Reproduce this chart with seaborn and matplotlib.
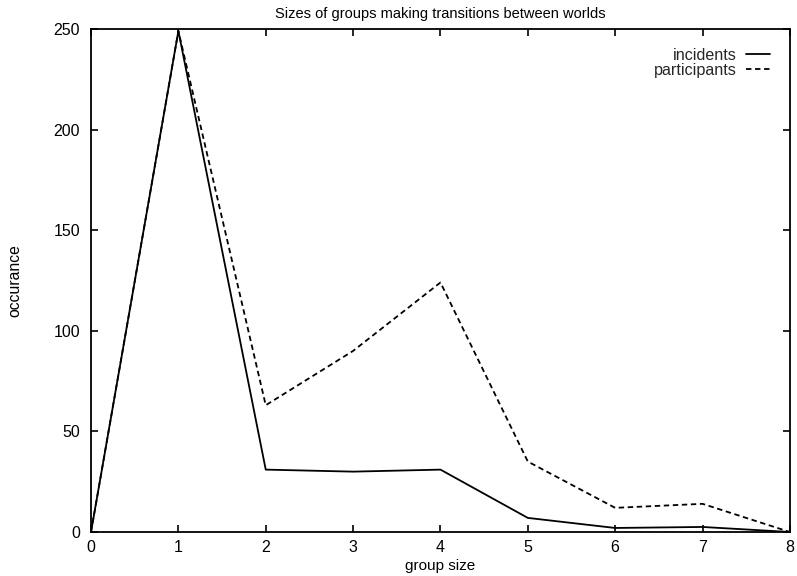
import numpy as np
import pandas as pd
import matplotlib
matplotlib.use("Agg")
import matplotlib.pyplot as plt
import seaborn as sns

group_size = [0, 1, 2, 3, 4, 5, 6, 7, 8]
incidents = [0, 249, 31, 30, 31, 7, 2, 2.5, 0]
participants = [0, 249, 63, 90, 124, 35, 12, 14, 0]
series_names = ["incidents", "participants"]
title = "Sizes of groups making transitions between worlds"
x_label = "group size"
y_label = "occurance"
x_ticks = [0, 1, 2, 3, 4, 5, 6, 7, 8]
y_ticks = [0, 50, 100, 150, 200, 250]

df = pd.DataFrame({
    "group size": group_size * 2,
    "occurance": incidents + participants,
    "series": [series_names[0]] * len(group_size) + [series_names[1]] * len(group_size),
})

sns.set_style("ticks")
plt.rcParams['font.family'] = ['Liberation Sans', 'DejaVu Sans']

fig = plt.figure(figsize=(7.97, 5.76), dpi=100)
ax = fig.add_axes([0.1142, 0.0764, 0.8769, 0.8733])

sns.lineplot(data=df, x="group size", y="occurance", style="series",
             style_order=series_names,
             dashes={"incidents": "", "participants": (3, 2)},
             color="black", linewidth=1.3, ax=ax, legend=True)

ax.set_xlim(0, 8)
ax.set_ylim(0, 250)
ax.set_xticks(x_ticks)
ax.set_yticks(y_ticks)
ax.tick_params(direction="in", length=5, width=1.2, top=True, right=True,
               labelsize=11.5, colors="black")
ax.tick_params(axis="y", pad=8)
ax.tick_params(axis="x", pad=6)
for sp in ax.spines.values():
    sp.set_visible(True)
    sp.set_color("black")
    sp.set_linewidth(1.3)

ax.set_title(title, fontsize=10.5, pad=8, color="black")
ax.set_xlabel(x_label, fontsize=11, labelpad=3, color="black")
ax.set_ylabel(y_label, fontsize=11.3, labelpad=22, color="black")

handles, labels = ax.get_legend_handles_labels()
leg = ax.legend(handles, labels, loc="upper right", frameon=False,
                markerfirst=False, fontsize=11.6, handlelength=1.5,
                handletextpad=0.55, labelspacing=0.0,
                bbox_to_anchor=(0.988, 0.985), borderaxespad=0.3)

fig.savefig("out.png", dpi=100)
